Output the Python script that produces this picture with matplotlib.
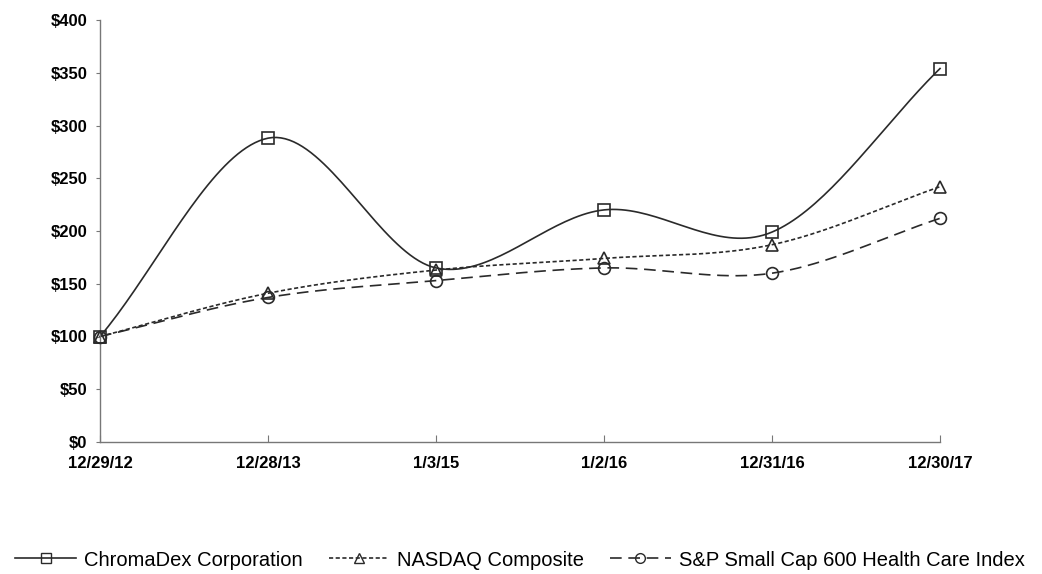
import numpy as np
import matplotlib
matplotlib.use("Agg")
import matplotlib.pyplot as plt
from matplotlib.lines import Line2D

dates = ["12/29/12", "12/28/13", "1/3/15", "1/2/16", "12/31/16", "12/30/17"]
chromadex = [100, 288, 165, 220, 199, 354]
nasdaq = [100, 141, 163, 174, 187, 242]
sp600hc = [100, 137, 153, 165, 160, 212]

plt.rcParams['font.family'] = ['Liberation Sans', 'DejaVu Sans']

def smooth(xs, ys, n=40):
    # Catmull-Rom style smoothing similar to spreadsheet "smoothed line"
    xs = np.asarray(xs, float); ys = np.asarray(ys, float)
    px = np.concatenate([[2*xs[0]-xs[1]], xs, [2*xs[-1]-xs[-2]]])
    py = np.concatenate([[2*ys[0]-ys[1]], ys, [2*ys[-1]-ys[-2]]])
    ox, oy = [], []
    for i in range(1, len(px)-2):
        p0, p1, p2, p3 = [np.array([px[j], py[j]]) for j in (i-1, i, i+1, i+2)]
        c1 = p1 + (p2 - p0) / 6.0
        c2 = p2 - (p3 - p1) / 6.0
        t = np.linspace(0, 1, n)[:, None]
        b = (1-t)**3*p1 + 3*(1-t)**2*t*c1 + 3*(1-t)*t**2*c2 + t**3*p2
        ox.extend(b[:, 0]); oy.extend(b[:, 1])
    return np.array(ox), np.array(oy)

fig = plt.figure(figsize=(10.42, 5.74), dpi=100)
ax = fig.add_axes([0.096, 1 - 442/574, (940 - 100) / 1042, (442 - 20) / 574])
x = np.arange(len(dates))

col = '#2a2a2a'
series = [
    (chromadex, '-', 's', 'ChromaDex Corporation'),
    (nasdaq, (0, (2.5, 1.5)), '^', 'NASDAQ Composite'),
    (sp600hc, (0, (7, 4)), 'o', 'S&P Small Cap 600 Health Care Index'),
]
handles = []
for ys, ls, mk, lab in series:
    sx, sy = smooth(x, ys)
    ax.plot(sx, sy, color=col, lw=1.2, linestyle=ls, zorder=2, clip_on=False)
    ax.plot(x, ys, linestyle='none', marker=mk, markersize=8.5, markerfacecolor='none',
            markeredgecolor=col, markeredgewidth=1.2, zorder=3, clip_on=False)
    handles.append(Line2D([0], [0], color=col, lw=1.2, linestyle=ls, marker=mk, markersize=7,
                          markerfacecolor='none', markeredgecolor=col, label=lab))

ax.set_xlim(0, 5)
ax.set_ylim(0, 400)
ax.set_xticks(x)
ax.set_xticklabels(dates)
ax.set_yticks(np.arange(0, 401, 50))
ax.set_yticklabels([f"${v}" for v in range(0, 401, 50)])
for s in ['top', 'right']:
    ax.spines[s].set_visible(False)
for s in ['left', 'bottom']:
    ax.spines[s].set_color('#777777')
    ax.spines[s].set_linewidth(1.0)
ax.tick_params(axis='x', direction='in', length=5, color='#777777', pad=10)
ax.tick_params(axis='y', direction='out', length=3, color='#777777', pad=6)
for lbl in ax.get_xticklabels() + ax.get_yticklabels():
    lbl.set_fontweight('bold')
    lbl.set_fontsize(12)

fig.legend(handles=handles, loc='center', bbox_to_anchor=(0.499, 1 - 560/574), ncol=3, frameon=False,
           fontsize=14.5, handlelength=3.0, columnspacing=1.3, handletextpad=0.4,
           borderpad=0, borderaxespad=0)

fig.savefig('out.png', dpi=100, facecolor='white')
